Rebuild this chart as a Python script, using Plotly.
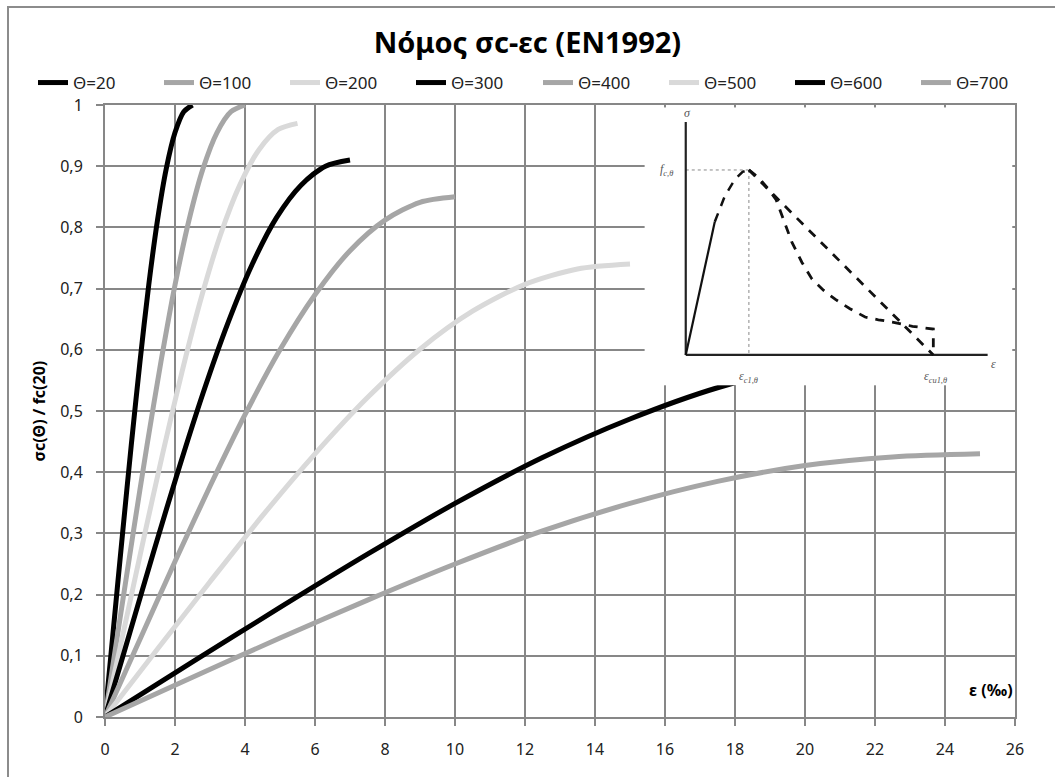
import plotly.graph_objects as go

# ---- stress-strain curves sigma_c(theta)/f_c(20) vs strain (per mille) ----
temps = ["Θ=20", "Θ=100", "Θ=200", "Θ=300", "Θ=400", "Θ=500", "Θ=600", "Θ=700"]
colors = ["#000000", "#a6a6a6", "#d9d9d9", "#000000", "#a6a6a6", "#d9d9d9", "#000000", "#a6a6a6"]

eps_20 = [0, 0.25, 0.5, 0.75, 1.0, 1.25, 1.5, 1.75, 2.0, 2.25, 2.5]
sig_20 = [0, 0.150, 0.299, 0.444, 0.581, 0.706, 0.812, 0.896, 0.955, 0.989, 1.0]

eps_100 = [0, 0.4, 0.8, 1.2, 1.6, 2.0, 2.4, 2.8, 3.2, 3.6, 4.0]
sig_100 = [0, 0.150, 0.299, 0.444, 0.581, 0.706, 0.812, 0.896, 0.955, 0.989, 1.0]

eps_200 = [0, 0.55, 1.1, 1.65, 2.2, 2.75, 3.3, 3.85, 4.4, 4.95, 5.5]
sig_200 = [0, 0.145, 0.290, 0.431, 0.564, 0.685, 0.788, 0.869, 0.927, 0.960, 0.97]

eps_300 = [0, 0.7, 1.4, 2.1, 2.8, 3.5, 4.2, 4.9, 5.6, 6.3, 7.0]
sig_300 = [0, 0.136, 0.272, 0.404, 0.529, 0.642, 0.739, 0.816, 0.869, 0.900, 0.91]

eps_400 = [0, 1, 2, 3, 4, 5, 6, 7, 8, 9, 10]
sig_400 = [0, 0.127, 0.254, 0.377, 0.494, 0.600, 0.690, 0.762, 0.812, 0.841, 0.85]

eps_500 = [0, 1.5, 3.0, 4.5, 6.0, 7.5, 9.0, 10.5, 12.0, 13.5, 15.0]
sig_500 = [0, 0.111, 0.221, 0.329, 0.430, 0.522, 0.601, 0.663, 0.707, 0.732, 0.74]

eps_600 = [0, 2.5, 5.0, 7.5, 10.0, 12.5, 15.0, 17.5, 20.0, 22.5, 25.0]
sig_600 = [0, 0.090, 0.179, 0.266, 0.349, 0.424, 0.487, 0.538, 0.573, 0.594, 0.60]

eps_700 = [0, 2.5, 5.0, 7.5, 10.0, 12.5, 15.0, 17.5, 20.0, 22.5, 25.0]
sig_700 = [0, 0.065, 0.129, 0.191, 0.250, 0.304, 0.349, 0.385, 0.411, 0.425, 0.43]

eps_series = [eps_20, eps_100, eps_200, eps_300, eps_400, eps_500, eps_600, eps_700]
sig_series = [sig_20, sig_100, sig_200, sig_300, sig_400, sig_500, sig_600, sig_700]

x_ticks = list(range(0, 27, 2))
y_ticks = [0, 0.1, 0.2, 0.3, 0.4, 0.5, 0.6, 0.7, 0.8, 0.9, 1.0]
y_tick_text = ["0", "0,1", "0,2", "0,3", "0,4", "0,5", "0,6", "0,7", "0,8", "0,9", "1"]

# ---- schematic sigma-epsilon law (normalised: eps_c1 = 1, f_c = 1) ----
sk_axis_sig_x = [0, 0]
sk_axis_sig_y = [0, 1.26]
sk_axis_eps_x = [0, 4.78]
sk_axis_eps_y = [0, 0]
sk_rise_solid_x = [0, 0.46]
sk_rise_solid_y = [0, 0.72]
sk_rise_dash_x = [0.46, 0.62, 0.78, 0.90, 1.0]
sk_rise_dash_y = [0.72, 0.86, 0.95, 0.99, 1.0]
sk_linear_x = [1.0, 3.92]
sk_linear_y = [1.0, 0.0]
sk_curved_x = [1.0, 1.15, 1.3, 1.43, 1.55, 1.68, 1.84, 2.0, 2.18, 2.37, 2.6, 2.84, 3.05, 3.27, 3.59, 3.92, 3.92]
sk_curved_y = [1.0, 0.96, 0.90, 0.84, 0.73, 0.61, 0.50, 0.41, 0.35, 0.30, 0.25, 0.205, 0.19, 0.178, 0.155, 0.14, 0.0]
sk_guide_h_x = [0, 1.0]
sk_guide_h_y = [1.0, 1.0]
sk_guide_v_x = [1.0, 1.0]
sk_guide_v_y = [1.0, 0.0]

FONT = "Noto Sans"
GRID = "#878787"

fig = go.Figure()

# first four temperatures in one legend block, the rest in a second block
for i, (name, col, xs, ys) in enumerate(zip(temps, colors, eps_series, sig_series)):
    fig.add_trace(go.Scatter(
        x=xs, y=ys, name=name, mode="lines",
        line=dict(color=col, width=5, shape="spline", smoothing=0.8),
        xaxis="x", yaxis="y", hoverinfo="skip",
        legend="legend" if i < 4 else "legend2",
    ))

# schematic drawn on its own small axes
def sk_line(xs, ys, color, width, dash="solid", shape="linear"):
    fig.add_trace(go.Scatter(
        x=xs, y=ys, mode="lines", showlegend=False, hoverinfo="skip",
        line=dict(color=color, width=width, dash=dash, shape=shape),
        xaxis="x2", yaxis="y2",
    ))

sk_line(sk_guide_h_x, sk_guide_h_y, "#888888", 1, "3px,3px")
sk_line(sk_guide_v_x, sk_guide_v_y, "#888888", 1, "3px,3px")
sk_line(sk_axis_sig_x, sk_axis_sig_y, "#222222", 2.2)
sk_line(sk_axis_eps_x, sk_axis_eps_y, "#222222", 2.2)
sk_line(sk_rise_solid_x, sk_rise_solid_y, "#111111", 2.2)
sk_line(sk_rise_dash_x, sk_rise_dash_y, "#111111", 2.5, "9px,8px")
sk_line(sk_linear_x, sk_linear_y, "#111111", 2.8, "9px,8px")
sk_line(sk_curved_x, sk_curved_y, "#111111", 2.8, "9px,8px")

sk_labels = [
    ("σ", 0.02, 1.31),
    ("f<sub>c,θ</sub>", -0.30, 1.0),
    ("ε<sub>c1,θ</sub>", 1.0, -0.12),
    ("ε<sub>cu1,θ</sub>", 3.95, -0.12),
    ("ε", 4.88, -0.05),
]
annotations = []
for txt, ax_, ay_ in sk_labels:
    annotations.append(dict(
        text="<i>" + txt + "</i>", x=ax_, y=ay_, xref="x2", yref="y2",
        showarrow=False, xanchor="center", yanchor="middle",
        font=dict(family="Liberation Serif", size=12, color="#555555"),
    ))

# y-axis caption and strain unit label
annotations.append(dict(
    text="<b>σc(Θ) / fc(20)</b>", x=-0.073, y=0.5, xref="paper", yref="paper",
    textangle=-90, showarrow=False, xanchor="center", yanchor="middle",
    font=dict(family=FONT, size=16, color="#000000"),
))
annotations.append(dict(
    text="<b>ε (‰)</b>", x=26, y=0.044, xref="x", yref="y",
    showarrow=False, xanchor="right", yanchor="middle",
    font=dict(family=FONT, size=16, color="#000000"),
))

legend_style = dict(
    orientation="h", xref="container", yref="container",
    xanchor="left", y=1 - 83 / 777, yanchor="middle",
    font=dict(family=FONT, size=17, color="#222222"),
    bgcolor="rgba(0,0,0,0)", entrywidth=81, entrywidthmode="pixels",
    itemwidth=30, tracegroupgap=0,
)

fig.update_layout(
    width=1055, height=777,
    margin=dict(l=105, r=40, t=105, b=60, autoexpand=False),
    paper_bgcolor="white", plot_bgcolor="white",
    separators=",.",
    title=dict(
        text="<b>Νόμος σc-εc (EN1992)</b>", x=0.5, xanchor="center",
        y=1 - 43 / 777, yanchor="middle",
        font=dict(family=FONT, size=29, color="#000000"),
    ),
    legend=dict(x=33 / 1055, **legend_style),
    legend2=dict(x=538 / 1055, **legend_style),
    xaxis=dict(
        range=[0, 26], tickvals=x_ticks, showgrid=True, gridcolor=GRID, gridwidth=2,
        showline=True, linecolor=GRID, linewidth=2, mirror=True,
        ticks="outside", ticklen=7, tickwidth=2, tickcolor=GRID,
        tickfont=dict(family=FONT, size=16, color="#222222"),
        ticklabelstandoff=10, zeroline=False, fixedrange=True,
    ),
    yaxis=dict(
        range=[0, 1], tickvals=y_ticks, ticktext=y_tick_text,
        showgrid=True, gridcolor=GRID, gridwidth=2,
        showline=True, linecolor=GRID, linewidth=2, mirror=True,
        ticks="outside", ticklen=7, tickwidth=2, tickcolor=GRID,
        tickfont=dict(family=FONT, size=16, color="#222222"),
        ticklabelstandoff=10, zeroline=False, fixedrange=True,
    ),
    xaxis2=dict(domain=[0.593, 0.997], range=[-0.651, 5.17], anchor="y2",
                visible=False, fixedrange=True),
    yaxis2=dict(domain=[0.542, 0.996], range=[-0.164, 1.338], anchor="x2",
                visible=False, fixedrange=True),
    annotations=annotations,
    shapes=[dict(
        type="rect", xref="paper", yref="paper",
        x0=(8 - 105) / 910, x1=(1062 - 105) / 910,
        y0=(717 - 785) / 612, y1=(717 - 7) / 612,
        line=dict(color="#8c8c8c", width=2), fillcolor="rgba(0,0,0,0)", layer="below",
    )],
    showlegend=True,
)

fig.write_html("out.html")
